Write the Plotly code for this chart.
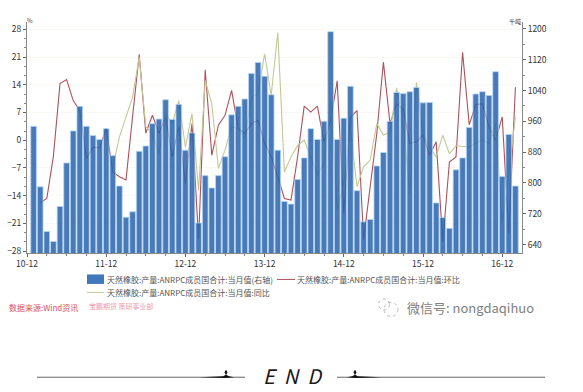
import plotly.graph_objects as go

months = ["10-12"] + [f"{y}-{m:02d}" for y in range(11, 17) for m in range(1, 13)] + ["17-01", "17-02"]

output_kt = [None,
 947, 790, 674, 648, 739, 852, 935, 999, 947, 923, 913, 941,
 871, 792, 711, 725, 882, 896, 954, 966, 1016, 965, 1004, 885,
 930, 696, 819, 787, 819, 868, 977, 999, 1018, 1084, 1113, 1077,
 1029, 885, 752, 745, 809, 865, 941, 913, 960, 1193, 913, 968,
 1051, 780, 699, 705, 844, 879, 960, 1035, 1032, 1037, 1048, 1008,
 1009, 748, 710, 682, 834, 865, 944, 1031, 1037, 1027, 1089, 817,
 926, 792]

mom_pct = [None, None,
 -15.8, -14.7, -4, 14.3, 15.3, 10, 7.5, -4.6, -1.7, -2, 3,
 -8, -9.2, -10, 6, 21.7, 1.8, 6.3, 1.7, 5.9, -4.2, 3.4, -11,
 4.2, -25, 17.8, -3.8, 3.8, 6.3, 12.6, 3, 1.7, 4.2, 5, -0.8,
 -4.2, -9.2, -14.7, -15.1, -4.2, 8.6, 7.1, 8.6, -0.4, 5, 15, -18.5,
 5.8, 7.5, -25, -11.7, 1.7, 19.7, 4.2, 9.2, 8, -0.8, -0.4, 1.3,
 -3.8, -0.4, -25.6, -5.5, -4.2, 22.2, 3.9, 9, 9.2, 3.4, 0, 5.9,
 -23.5, 13.4, -11.7][:75]

yoy_pct = [None] * 13 + [
 -6.7, 0.8, 5.9, 10.9, 21, 3.4, 1.7, -3.4, 6.7, 4.2, 10, -1.7,
 6.7, -12.6, 15.1, 9.2, -7.1, -2.5, 3.4, 3, 0.4, 10.9, 11.8, 21.8,
 11.3, 27.2, -8, -4.2, -1.3, 0, -4.2, -8.8, -5.9, 10, -17.6, -10.9,
 2.5, -11.7, -6.7, -5, 4.2, 1.3, 2, 13.2, 4.2, -13.6, 14.6, 1.7,
 -1.7, -4.2, 1.3, -3.4, -1.4, -1.5, -1.7, -0.7, 0, -0.8, 4.2, -21,
 -8.4, 5.9]

series_names = ["天然橡胶:产量:ANRPC成员国合计:当月值(右轴)",
                "天然橡胶:产量:ANRPC成员国合计:当月值:环比",
                "天然橡胶:产量:ANRPC成员国合计:当月值:同比"]
left_ticks = [-28, -21, -14, -7, 0, 7, 14, 21, 28]
right_ticks = [640, 720, 800, 880, 960, 1040, 1120, 1200]
x_ticks = ["10-12", "11-12", "12-12", "13-12", "14-12", "15-12", "16-12"]

W, H = 583, 392
L, R, T, B = 27, 522, 22, 253.5
FONT = "Noto Sans CJK SC"
TEXT = "#333333"
RED, OLIVE = "#ad525b", "#c2c994"
def px(x): return (x - L) / (R - L)
def py(y): return 1 - (y - T) / (B - T)

fig = go.Figure()
fig.add_trace(go.Bar(x=months, y=output_kt, yaxis="y2", name=series_names[0], width=0.86,
                     marker=dict(color="#2c64ab", line=dict(color="#a9d2f5", width=0.8)), opacity=0.86))
fig.add_trace(go.Scatter(x=months, y=mom_pct, mode="lines", name=series_names[1],
                         line=dict(color=RED, width=1.1), connectgaps=False))
fig.add_trace(go.Scatter(x=months, y=yoy_pct, mode="lines", name=series_names[2],
                         line=dict(color=OLIVE, width=1.1), connectgaps=False))

def paper(**kw):
    return dict(xref="paper", yref="paper", **kw)

shapes = [
    paper(type="rect", x0=px(87), x1=px(104), y0=py(275), y1=py(284.5), fillcolor="#3f78bb", line=dict(width=0)),
    paper(type="line", x0=px(277), x1=px(295), y0=py(280), y1=py(280), line=dict(color=RED, width=1)),
    paper(type="line", x0=px(87), x1=px(104), y0=py(293), y1=py(293), line=dict(color=OLIVE, width=1)),
]
for x0, x1 in [(37, 245), (337, 545)]:
    shapes.append(paper(type="line", x0=px(x0), x1=px(x1), y0=py(378), y1=py(378),
                        line=dict(color="#666666", width=1)))
for c, long_left in [(226, True), (355, False)]:
    a, b = (26, 8) if long_left else (8, 26)
    shapes.append(paper(type="path", fillcolor="#111111", line=dict(width=0),
                        path=f"M {px(c-a)} {py(378)} L {px(c-3)} {py(377)} L {px(c)} {py(375.5)} L {px(c+3)} {py(377)} "
                             f"L {px(c+b)} {py(378)} L {px(c)} {py(378.8)} Z"))
    shapes.append(paper(type="path", fillcolor="#111111", line=dict(width=0),
                        path=f"M {px(c)} {py(370.5)} L {px(c+1.5)} {py(373)} L {px(c)} {py(376)} L {px(c-1.5)} {py(373)} Z"))
for cx, cy, r in [(391, 310, 7), (384, 305, 5.5)]:
    shapes.append(paper(type="circle", x0=px(cx-r), x1=px(cx+r), y0=py(cy-r), y1=py(cy+r),
                        line=dict(color="#aaaaaa", width=0.8, dash="dot")))

def note(x, y, text, size, color, anchor="left"):
    return dict(xref="paper", yref="paper", x=px(x), y=py(y), text=text, showarrow=False, xanchor=anchor,
                yanchor="middle", font=dict(family=FONT, size=size, color=color))

annotations = [
    note(30, 20, "%", 6, TEXT, "center"),
    note(515, 21, "千吨", 6, TEXT, "center"),
    note(105, 280, series_names[0], 8, "#555555"),
    note(295, 280, series_names[1], 8, "#555555"),
    note(105, 293, series_names[2], 8, "#555555"),
    note(7, 308, "数据来源:Wind资讯", 8, "#d9545c"),
    note(87, 307, "宝鹏期货 策研事业部", 7, "#ee9aaa"),
    note(405, 308, "微信号: nongdaqihuo", 13, "#808080"),
    note(293, 376.5, "<i>E  N  D</i>", 20, "#1a1a1a", "center"),
]

fig.update_layout(
    width=W, height=H, autosize=False,
    margin=dict(l=L, r=W-R, t=T, b=H-B, autoexpand=False),
    paper_bgcolor="white", plot_bgcolor="white",
    font=dict(family=FONT, size=9, color=TEXT),
    bargap=0.14,
    showlegend=False,
    xaxis=dict(type="category", categoryorder="array", categoryarray=months, range=[0, 75],
               tickmode="array", tickvals=x_ticks, ticktext=x_ticks, ticks="outside", ticklen=3,
               tickcolor="#666666", showgrid=False, zeroline=False, showline=True, linecolor="#888888",
               linewidth=1, tickfont=dict(size=8.5, color=TEXT),
               minor=dict(ticks="outside", ticklen=2, tickcolor="#888888", tickmode="array",
                          tickvals=months[0::3], showgrid=False)),
    yaxis=dict(range=[-28.45, 29.84], tickvals=left_ticks, ticks="outside", ticklen=3, tickcolor="#666666",
               showline=True, linecolor="#888888", linewidth=1, showgrid=True, gridcolor="#faf8f3", gridwidth=1,
               zeroline=False, tickfont=dict(size=8.5, color=TEXT),
               minor=dict(ticks="outside", ticklen=2, tickcolor="#888888", dtick=7/3, tick0=0, showgrid=False)),
    yaxis2=dict(range=[618, 1218], overlaying="y", side="right", tickvals=right_ticks, ticks="outside", ticklen=3,
                tickcolor="#666666", showline=True, linecolor="#888888", linewidth=1, showgrid=False, zeroline=False,
                tickfont=dict(size=8.5, color=TEXT),
                minor=dict(ticks="outside", ticklen=2, tickcolor="#888888", dtick=40, tick0=0, showgrid=False)),
    shapes=shapes, annotations=annotations,
)

fig.write_html("out.html", config=dict(displayModeBar=False), post_script="document.body.style.margin='0';")
